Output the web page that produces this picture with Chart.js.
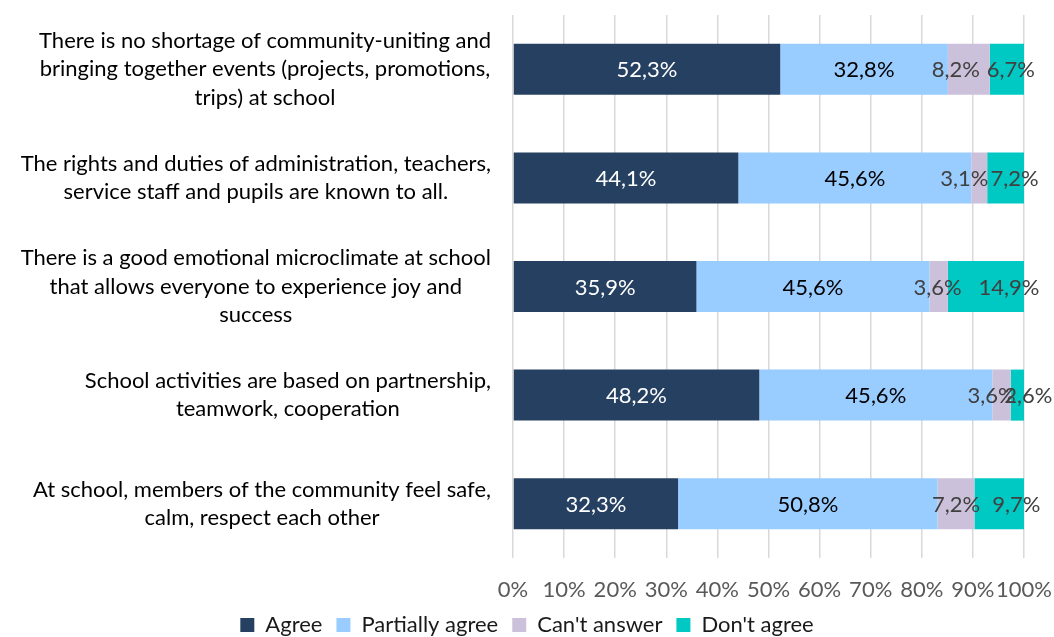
<!DOCTYPE html>
<html>
<head>
<meta charset="utf-8">
<script src="https://cdn.jsdelivr.net/npm/chart.js@4/dist/chart.umd.min.js"></script>
<style>
  html, body { margin: 0; padding: 0; background: #ffffff; }
  canvas { display: block; }
</style>
</head>
<body>
<canvas id="chart" width="1054" height="637"></canvas>
<script>
// Survey statements (multi-line labels for the category axis)
const categories = [
  ["There is no shortage of community-uniting and", "bringing together events (projects, promotions,", "trips) at school"],
  ["The rights and duties of administration, teachers,", "service staff and pupils are known to all."],
  ["There is a good emotional microclimate at school", "that allows everyone to experience joy and", "success"],
  ["School activities are based on partnership,", "teamwork, cooperation"],
  ["At school, members of the community feel safe,", "calm, respect each other"]
];

// Answer shares, percent
const agree          = [52.3, 44.1, 35.9, 48.2, 32.3];
const partiallyAgree = [32.8, 45.6, 45.6, 45.6, 50.8];
const cantAnswer     = [8.2, 3.1, 3.6, 3.6, 7.2];
const dontAgree      = [6.7, 7.2, 14.9, 2.6, 9.7];

const seriesNames = ["Agree", "Partially agree", "Can't answer", "Don't agree"];

// Value axis tick values (percent)
const xTickValues = [0, 10, 20, 30, 40, 50, 60, 70, 80, 90, 100];

// Horizontal nudges (px) for value labels of the two narrow segments
const cantAnswerLabelNudge = [-13, -15, -1, -10, 0];
const dontAgreeLabelNudge  = [4, 9, 23, 11, 17];

const FONT = "Lato, 'Open Sans', sans-serif";
const FONT_SIZE = 22;

const fmt = v => v.toFixed(1).replace('.', ',') + '%';

// Draws the category statements: each block right-aligned, lines centred within the block
const categoryLabels = {
  id: 'categoryLabels',
  afterDraw(chart) {
    const ctx = chart.ctx;
    const yScale = chart.scales.y;
    const right = chart.chartArea.left - 22;
    const lineH = 28.5;
    ctx.save();
    ctx.font = FONT_SIZE + "px " + FONT;
    ctx.fillStyle = '#000000';
    ctx.textAlign = 'center';
    ctx.textBaseline = 'middle';
    categories.forEach((lines, i) => {
      const cy = yScale.getPixelForTick(i);
      const maxW = Math.max(...lines.map(l => ctx.measureText(l).width));
      const cx = right - maxW / 2;
      lines.forEach((line, j) => {
        ctx.fillText(line, cx, cy + (j - (lines.length - 1) / 2) * lineH);
      });
    });
    ctx.restore();
  }
};

// Writes each segment's value in the middle of its bar
const valueLabels = {
  id: 'valueLabels',
  afterDatasetsDraw(chart) {
    const ctx = chart.ctx;
    ctx.save();
    ctx.font = FONT_SIZE + "px " + FONT;
    ctx.textAlign = 'center';
    ctx.textBaseline = 'middle';
    chart.data.datasets.forEach((ds, di) => {
      const meta = chart.getDatasetMeta(di);
      ctx.fillStyle = ds.labelColor;
      meta.data.forEach((bar, i) => {
        const nudge = ds.labelNudge ? ds.labelNudge[i] : 0;
        const x = (bar.x + bar.base) / 2 + nudge;
        ctx.fillText(fmt(ds.data[i]), x, bar.y + 1);
      });
    });
    ctx.restore();
  }
};

new Chart(document.getElementById('chart'), {
  type: 'bar',
  data: {
    labels: categories,
    datasets: [
      { label: seriesNames[0], data: agree,          backgroundColor: '#264061', labelColor: '#ffffff' },
      { label: seriesNames[1], data: partiallyAgree, backgroundColor: '#99ccff', labelColor: '#000000' },
      { label: seriesNames[2], data: cantAnswer,     backgroundColor: '#ccc1da', labelColor: '#404040', labelNudge: cantAnswerLabelNudge },
      { label: seriesNames[3], data: dontAgree,      backgroundColor: '#00c8c3', labelColor: '#404040', labelNudge: dontAgreeLabelNudge }
    ]
  },
  options: {
    indexAxis: 'y',
    responsive: false,
    animation: false,
    devicePixelRatio: 1,
    layout: { padding: { top: 15, right: 0, bottom: -9, left: 0 } },
    datasets: { bar: { barPercentage: 0.47, categoryPercentage: 1 } },
    scales: {
      x: {
        stacked: true,
        min: 0,
        max: 100,
        afterBuildTicks(scale) { scale.ticks = xTickValues.map(v => ({ value: v })); },
        afterFit(scale) { scale.height = 42; scale.paddingRight = 30; },
        grid: { color: '#d9d9d9', lineWidth: 1.5, drawTicks: false },
        border: { display: false },
        ticks: {
          autoSkip: false,
          padding: 19,
          color: '#595959',
          font: { family: FONT, size: FONT_SIZE },
          maxRotation: 0,
          callback: v => v + '%'
        }
      },
      y: {
        stacked: true,
        grid: { display: false },
        border: { display: false },
        ticks: { display: false },
        afterFit(scale) { scale.width = 513; }
      }
    },
    plugins: {
      legend: {
        position: 'bottom',
        labels: {
          boxWidth: 14,
          boxHeight: 14,
          padding: 14,
          color: '#1a1a1a',
          font: { family: FONT, size: FONT_SIZE }
        }
      },
      tooltip: { enabled: false }
    }
  },
  plugins: [categoryLabels, valueLabels]
});
</script>
</body>
</html>
